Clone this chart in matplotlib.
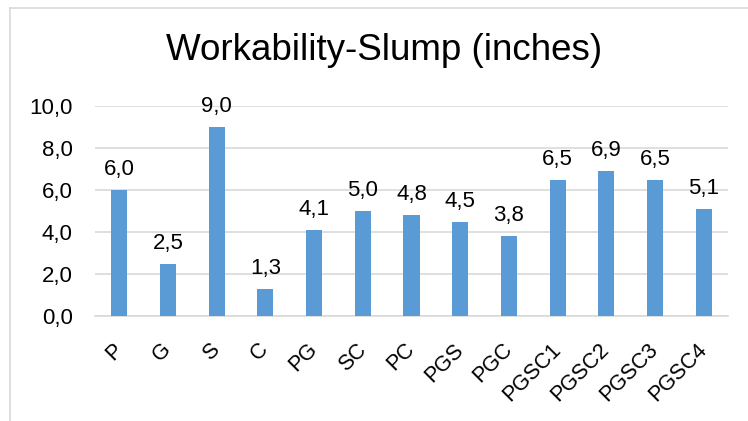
import matplotlib.pyplot as plt
import matplotlib.transforms as mtransforms
from matplotlib.lines import Line2D

plt.rcParams['font.family'] = ['Liberation Sans', 'DejaVu Sans']

mixes = ['P', 'G', 'S', 'C', 'PG', 'SC', 'PC', 'PGS', 'PGC',
         'PGSC1', 'PGSC2', 'PGSC3', 'PGSC4']
slump = [6.0, 2.5, 9.0, 1.3, 4.1, 5.0, 4.8, 4.5, 3.8, 6.5, 6.9, 6.5, 5.1]
yticks = [0, 2, 4, 6, 8, 10]

W, H = 748, 421
fig = plt.figure(figsize=(W / 100, H / 100), dpi=100)
ax = fig.add_axes([95 / W, 1 - 316 / H, (728 - 95) / W, (316 - 106) / H])

x = range(len(mixes))
bars = ax.bar(x, slump, width=0.33, color='#5B9BD5', zorder=3)
for b, v in zip(bars, slump):
    ax.annotate(f'{v:.1f}'.replace('.', ','), (b.get_x() + b.get_width() / 2, v),
                xytext=(0, 7), textcoords='offset points',
                ha='center', va='bottom', fontsize=16)

ax.set_xlim(-0.5, len(mixes) - 0.5)
ax.set_ylim(0, 10)
ax.set_yticks(yticks)
ax.set_yticklabels([f'{t:.1f}'.replace('.', ',') for t in yticks], fontsize=16)
ax.set_xticks(list(x))
ax.set_xticklabels(mixes, fontsize=15.5, rotation=45, ha='right', va='center',
                   rotation_mode='anchor')
shift = mtransforms.ScaledTranslation(-6 / 72, 0, fig.dpi_scale_trans)
for lbl in ax.get_xticklabels():
    lbl.set_transform(lbl.get_transform() + shift)
ax.tick_params(length=0)
ax.tick_params(axis='x', pad=22)
ax.tick_params(axis='y', pad=16)
ax.grid(axis='y', color='#D9D9D9', linewidth=1.2, zorder=0)
for s in ['top', 'right', 'left']:
    ax.spines[s].set_visible(False)
ax.spines['bottom'].set_color('#D9D9D9')
ax.spines['bottom'].set_linewidth(1.2)

fig.text(384 / W, 1 - 51 / H, 'Workability-Slump (inches)', fontsize=26.5,
         ha='center', va='center')

# chart area border (cropped at right and bottom)
fig.add_artist(Line2D([10 / W, 10 / W], [0, 1 - 8 / H], color='#D9D9D9', lw=1.2))
fig.add_artist(Line2D([10 / W, 1], [1 - 8 / H, 1 - 8 / H], color='#D9D9D9', lw=1.2))

fig.savefig('out.png', dpi=100)
